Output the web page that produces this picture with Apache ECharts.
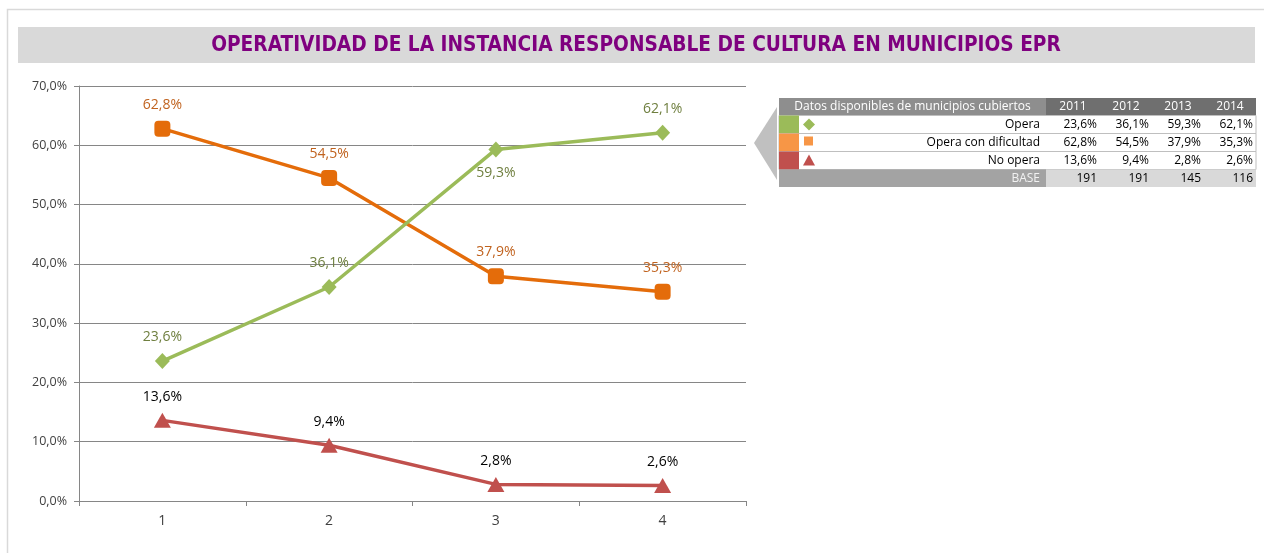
<!DOCTYPE html>
<html>
<head>
<meta charset="utf-8">
<script src="https://cdn.jsdelivr.net/npm/echarts@6/dist/echarts.min.js"></script>
<style>
  html, body { margin: 0; padding: 0; background: #fff; }
  #chart { width: 1264px; height: 553px; }
</style>
</head>
<body>
<div id="chart"></div>
<script>
// Categories, years and series values
const categories = ['1', '2', '3', '4'];
const years = ['2011', '2012', '2013', '2014'];
const seriesNames = ['Opera', 'Opera con dificultad', 'No opera'];
const opera = [23.6, 36.1, 59.3, 62.1];
const operaDificultad = [62.8, 54.5, 37.9, 35.3];
const noOpera = [13.6, 9.4, 2.8, 2.6];
const baseCounts = [191, 191, 145, 116];
const tableTitle = 'Datos disponibles de municipios cubiertos';
const baseLabel = 'BASE';
const chartTitle = 'OPERATIVIDAD DE LA INSTANCIA RESPONSABLE DE CULTURA EN MUNICIPIOS EPR';

const FONT = '"Open Sans", "Noto Sans", sans-serif';
const lineColors = ['#9BBB59', '#E46C0A', '#C0504D'];
const swatchColors = ['#9BBB59', '#F79646', '#C0504D'];
const labelColors = ['#6F7F3F', '#C0621E', '#000000'];

const pct = v => v.toFixed(1).replace('.', ',') + '%';

// Data label position per point for the "Opera" line (third point sits below)
const operaLabelPos = ['top', 'top', 'bottom', 'top'];

const chart = echarts.init(document.getElementById('chart'), null, { renderer: 'canvas' });

// ---- summary table drawn as graphic elements ----
const T = {
  x: 779,
  labelEnd: 1046,
  cols: [1046, 1100, 1152, 1204, 1256],
  rows: [98, 115.5, 133.5, 151.5, 169.5, 187]
};
const TF = '12px ' + FONT;
const tableEls = [];
// pointer arrow on the left of the table
tableEls.push({
  type: 'polygon',
  shape: { points: [[754, 143], [777, 107], [777, 180]] },
  style: { fill: '#C0C0C0' }
});
// header row
tableEls.push({
  type: 'rect',
  shape: { x: T.x, y: T.rows[0], width: T.labelEnd - T.x, height: T.rows[1] - T.rows[0] },
  style: { fill: '#8E8E8E' }
});
tableEls.push({
  type: 'rect',
  shape: { x: T.labelEnd, y: T.rows[0], width: T.cols[4] - T.labelEnd, height: T.rows[1] - T.rows[0] },
  style: { fill: '#6F6F6F' }
});
tableEls.push({
  type: 'text',
  x: (T.x + T.labelEnd) / 2, y: (T.rows[0] + T.rows[1]) / 2,
  style: { text: tableTitle, fill: '#FFFFFF', font: TF, align: 'center', verticalAlign: 'middle' }
});
years.forEach((yr, i) => {
  tableEls.push({
    type: 'text',
    x: (T.cols[i] + T.cols[i + 1]) / 2, y: (T.rows[0] + T.rows[1]) / 2,
    style: { text: yr, fill: '#FFFFFF', font: TF, align: 'center', verticalAlign: 'middle' }
  });
});
// series rows
const seriesData = [opera, operaDificultad, noOpera];
seriesData.forEach((vals, r) => {
  const y0 = T.rows[r + 1], y1 = T.rows[r + 2];
  const ym = (y0 + y1) / 2;
  tableEls.push({
    type: 'rect',
    shape: { x: T.x, y: y0, width: T.cols[4] - T.x, height: y1 - y0 },
    style: { fill: '#FFFFFF', stroke: '#BFBFBF', lineWidth: 1 }
  });
  tableEls.push({
    type: 'rect',
    shape: { x: T.x, y: y0, width: 20, height: y1 - y0 },
    style: { fill: swatchColors[r] }
  });
  // small marker icon
  const cx = 809;
  if (r === 0) {
    tableEls.push({ type: 'polygon', shape: { points: [[cx, ym - 6], [cx + 6, ym], [cx, ym + 6], [cx - 6, ym]] }, style: { fill: swatchColors[r] } });
  } else if (r === 1) {
    tableEls.push({ type: 'rect', shape: { x: cx - 5, y: ym - 6, width: 9, height: 9 }, style: { fill: swatchColors[r] } });
  } else {
    tableEls.push({ type: 'polygon', shape: { points: [[cx, ym - 6], [cx + 6, ym + 5], [cx - 6, ym + 5]] }, style: { fill: swatchColors[r] } });
  }
  tableEls.push({
    type: 'text',
    x: 1040, y: ym,
    style: { text: seriesNames[r], fill: '#000000', font: TF, align: 'right', verticalAlign: 'middle' }
  });
  vals.forEach((v, i) => {
    tableEls.push({
      type: 'text',
      x: T.cols[i + 1] - 3, y: ym,
      style: { text: pct(v), fill: '#000000', font: TF, align: 'right', verticalAlign: 'middle' }
    });
  });
});
// base row
tableEls.push({
  type: 'rect',
  shape: { x: T.x, y: T.rows[4], width: T.labelEnd - T.x, height: T.rows[5] - T.rows[4] },
  style: { fill: '#A3A3A3' }
});
tableEls.push({
  type: 'rect',
  shape: { x: T.labelEnd, y: T.rows[4], width: T.cols[4] - T.labelEnd, height: T.rows[5] - T.rows[4] },
  style: { fill: '#D9D9D9' }
});
tableEls.push({
  type: 'text',
  x: 1040, y: (T.rows[4] + T.rows[5]) / 2,
  style: { text: baseLabel, fill: '#F2F2F2', font: TF, align: 'right', verticalAlign: 'middle' }
});
baseCounts.forEach((b, i) => {
  tableEls.push({
    type: 'text',
    x: T.cols[i + 1] - 3, y: (T.rows[4] + T.rows[5]) / 2,
    style: { text: String(b), fill: '#000000', font: TF, align: 'right', verticalAlign: 'middle' }
  });
});

const makeLabel = (color, position) => ({
  show: true,
  position: position || 'top',
  distance: 9,
  color: color,
  fontFamily: FONT,
  fontSize: 14,
  formatter: p => pct(p.value)
});

const option = {
  animation: false,
  backgroundColor: '#FFFFFF',
  graphic: [
    // chart frame
    { type: 'rect', shape: { x: 7.5, y: 9.5, width: 1262, height: 560 }, style: { fill: 'none', stroke: '#D9D9D9', lineWidth: 1.5 }, z: 0 },
    // title band
    { type: 'rect', shape: { x: 18, y: 27, width: 1237, height: 36 }, style: { fill: '#D9D9D9' } },
    {
      type: 'text', x: 636, y: 46,
      style: { text: chartTitle, fill: '#7F007F', font: 'bold 20.7px "Liberation Sans Narrow", "DejaVu Sans Condensed", sans-serif', align: 'center', verticalAlign: 'middle' }
    }
  ].concat(tableEls),
  grid: { left: 79, right: 518, top: 86, bottom: 52, containLabel: false },
  xAxis: {
    type: 'category',
    data: categories,
    boundaryGap: true,
    axisLine: { show: true, lineStyle: { color: '#868686', width: 1 } },
    axisTick: { show: true, length: 5, lineStyle: { color: '#868686' } },
    axisLabel: { color: '#404040', fontFamily: FONT, fontSize: 14, margin: 13 },
    splitLine: { show: false }
  },
  yAxis: {
    type: 'value',
    min: 0, max: 70, interval: 10,
    axisLine: { show: true, lineStyle: { color: '#868686', width: 1 } },
    axisTick: { show: true, length: 5, lineStyle: { color: '#868686' } },
    axisLabel: { color: '#404040', fontFamily: FONT, fontSize: 12.5, margin: 12, formatter: v => pct(v) },
    splitLine: { show: true, lineStyle: { color: '#868686', width: 1 } }
  },
  series: [
    {
      name: seriesNames[0], type: 'line',
      data: opera.map((v, i) => ({ value: v, label: makeLabel(labelColors[0], operaLabelPos[i]) })),
      symbol: 'diamond', symbolSize: [15, 16],
      lineStyle: { color: lineColors[0], width: 3.5 },
      itemStyle: { color: lineColors[0] },
      label: makeLabel(labelColors[0]),
      z: 3
    },
    {
      name: seriesNames[1], type: 'line',
      data: operaDificultad,
      symbol: 'roundRect', symbolSize: 16,
      lineStyle: { color: lineColors[1], width: 3.5 },
      itemStyle: { color: lineColors[1] },
      label: makeLabel(labelColors[1]),
      z: 2
    },
    {
      name: seriesNames[2], type: 'line',
      data: noOpera,
      symbol: 'triangle', symbolSize: [17, 15],
      lineStyle: { color: lineColors[2], width: 3.5 },
      itemStyle: { color: lineColors[2] },
      label: makeLabel(labelColors[2]),
      z: 2
    }
  ]
};

chart.setOption(option);
</script>
</body>
</html>
